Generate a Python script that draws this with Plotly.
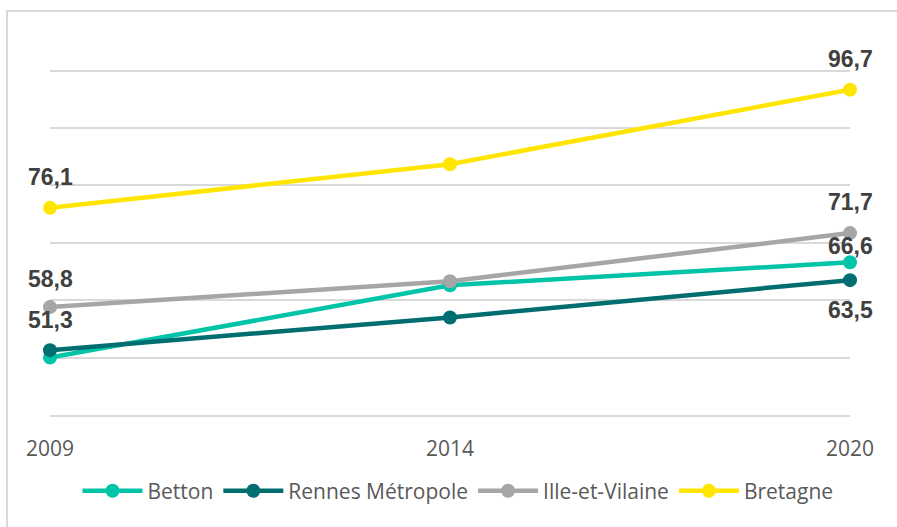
import plotly.graph_objects as go

# --- Données ---
annees = ["2009", "2014", "2020"]

betton = [50.0, 62.6, 66.6]
rennes_metropole = [51.3, 57.0, 63.5]
ille_et_vilaine = [58.8, 63.3, 71.7]
bretagne = [76.1, 83.7, 96.7]

series = [
    ("Betton", betton, "#00C4A8"),
    ("Rennes Métropole", rennes_metropole, "#006D70"),
    ("Ille-et-Vilaine", ille_et_vilaine, "#A6A6A6"),
    ("Bretagne", bretagne, "#FFE500"),
]

# étiquettes affichées : (série, index de l'année, décalage vertical en px)
etiquettes = [
    ("Bretagne", 0, 31), ("Bretagne", 2, 31),
    ("Ille-et-Vilaine", 0, 28), ("Ille-et-Vilaine", 2, 31),
    ("Rennes Métropole", 0, 30), ("Rennes Métropole", 2, -30),
    ("Betton", 2, 16),
]

fig = go.Figure()

for nom, vals, couleur in series:
    fig.add_trace(go.Scatter(
        x=annees, y=vals,
        mode="lines+markers", name=nom,
        line=dict(color=couleur, width=4.5),
        marker=dict(color=couleur, size=14),
        cliponaxis=False,
    ))

valeurs = {nom: vals for nom, vals, _ in series}
for nom, i, dy in etiquettes:
    v = valeurs[nom][i]
    fig.add_annotation(
        xref="x", yref="y",
        x=i, y=v,
        text="<b>" + f"{v:.1f}".replace(".", ",") + "</b>",
        showarrow=False, yshift=dy,
        font=dict(family="Liberation Sans Narrow, Arial Narrow, Liberation Sans, sans-serif",
                  size=23, color="#404040"),
    )

# cadre du graphique
fig.add_shape(type="rect", xref="paper", yref="paper",
              x0=-0.05375, x1=1.07, y0=-0.35, y1=1.0831,
              line=dict(color="#D9D9D9", width=2), layer="below")

fig.update_layout(
    width=897, height=527,
    margin=dict(l=50, r=47, t=42, b=112),
    paper_bgcolor="white", plot_bgcolor="white",
    showlegend=True,
    legend=dict(orientation="h", x=0.51, xanchor="center", y=-0.204, yanchor="middle",
                font=dict(family="Open Sans, sans-serif", size=21, color="#595959"),
                itemwidth=60, tracegroupgap=0),
    font=dict(family="Open Sans, sans-serif", color="#595959"),
)

fig.update_xaxes(type="category", range=[0, 2], showgrid=False,
                 showline=True, linecolor="#D9D9D9", linewidth=1.5,
                 ticks="outside", ticklen=14, tickcolor="rgba(0,0,0,0)",
                 tickfont=dict(family="Open Sans, sans-serif", size=21, color="#595959"))
fig.update_yaxes(range=[40, 105], dtick=10, showticklabels=False,
                 gridcolor="#D9D9D9", gridwidth=1.5, zeroline=False)

fig.write_html("out.html", config={"displayModeBar": False},
               post_script="document.body.style.margin='0px';")
